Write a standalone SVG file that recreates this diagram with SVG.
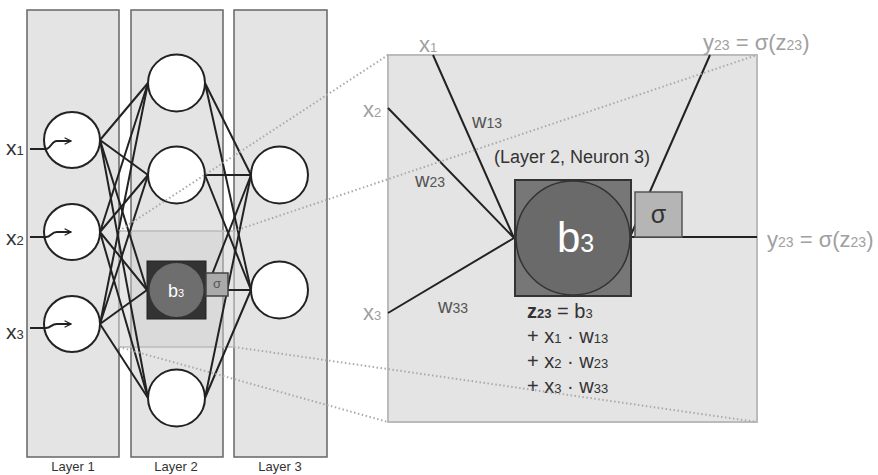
<svg xmlns="http://www.w3.org/2000/svg" width="878" height="475" viewBox="0 0 878 475">
<defs>
<style>
.layer{fill:#e4e4e4;stroke:#666;stroke-width:1.5}
.neuron{fill:#fff;stroke:#222;stroke-width:2}
.edge{stroke:#222;stroke-width:2;fill:none}
.dot{stroke:#aaa;stroke-width:2;stroke-dasharray:1.5 2.5;fill:none}
.t{font-family:"Liberation Sans",Arial,sans-serif}
.lbl{font-size:13px;fill:#333}
.xin{font-size:21px;fill:#333}
.xg{font-size:22px;fill:#a0a0a0}
.w{font-size:20px;fill:#555}
.eq{font-size:20px;fill:#333}
</style>
<marker id="arr" viewBox="0 0 10 10" refX="9" refY="5" markerWidth="8" markerHeight="8" markerUnits="userSpaceOnUse" orient="auto">
<path d="M1,1 L9,5 L1,9" fill="none" stroke="#222" stroke-width="1.6"/>
</marker>
</defs>
<rect width="878" height="475" fill="#fff"/>

<g id="layers">
<rect class="layer" x="27" y="10" width="92" height="447"/>
<rect class="layer" x="131" y="10" width="92" height="447"/>
<rect class="layer" x="234" y="10" width="93" height="447"/>
<text class="t lbl" x="73" y="471" text-anchor="middle">Layer 1</text>
<text class="t lbl" x="176" y="471" text-anchor="middle">Layer 2</text>
<text class="t lbl" x="280" y="471" text-anchor="middle">Layer 3</text>
</g>

<g id="highlight">
<rect x="119" y="231" width="115" height="116" fill="#cfcfcf" fill-opacity="0.5" stroke="#bbb" stroke-width="1.5"/>
</g>

<g id="zoom-panel">
<rect x="388" y="55" width="369" height="367" fill="#e4e4e4" stroke="#bbb" stroke-width="2"/>
</g>

<g id="connectors">
<path class="edge" d="M100,140 L148,83 M100,140 L148,175 M100,140 L147,290 M100,140 L148,398"/>
<path class="edge" d="M100,232 L148,83 M100,232 L148,175 M100,232 L147,290 M100,232 L148,398"/>
<path class="edge" d="M100,324 L148,83 M100,324 L148,175 M100,324 L147,290 M100,324 L148,398"/>
<path class="edge" d="M205,83 L251,175 M205,83 L251,290"/>
<path class="edge" d="M205,175 L251,175 M205,175 L251,290"/>
<path class="edge" d="M206,290 L251,175 M206,290 L251,290"/>
<path class="edge" d="M205,398 L251,175 M205,398 L251,290"/>
<path class="edge" d="M30,149 H45 M30,237 H45 M30,328 H45"/>
<path class="edge" d="M433,55 L514,238 M388,108 L514,238 M388,313 L514,238"/>
<path class="edge" d="M630,237 L710,55 M630,237 H757"/>
</g>

<g id="inputs">
<text class="t xin" x="6" y="155">x<tspan font-size="13">1</tspan></text>
<text class="t xin" x="6" y="245">x<tspan font-size="13">2</tspan></text>
<text class="t xin" x="6" y="339">x<tspan font-size="13">3</tspan></text>
</g>

<g id="l1-n1"><circle class="neuron" cx="72" cy="140" r="28"/><path class="edge" d="M44,149 H46 C51,149 51,141 57,141 H71" marker-end="url(#arr)"/></g>
<g id="l1-n2"><circle class="neuron" cx="72" cy="232" r="28"/><path class="edge" d="M44,237 H46 C51,237 51,232 57,232 H71" marker-end="url(#arr)"/></g>
<g id="l1-n3"><circle class="neuron" cx="72" cy="324" r="28"/><path class="edge" d="M44,328 H46 C51,328 51,324 57,324 H71" marker-end="url(#arr)"/></g>

<g id="l2-n1"><circle class="neuron" cx="176.5" cy="83" r="28.5"/></g>
<g id="l2-n2"><circle class="neuron" cx="176.5" cy="175" r="28.5"/></g>
<g id="l2-n3">
<rect x="147" y="261" width="59" height="58" fill="#333" stroke="#222" stroke-width="1"/>
<circle cx="176.5" cy="290" r="27" fill="#6e6e6e"/>
<text class="t" x="168" y="297" font-size="18" fill="#fff">b<tspan font-size="11">3</tspan></text>
</g>
<g id="l2-sigma">
<rect x="206" y="273" width="22" height="23" fill="#aaa" stroke="#444" stroke-width="1.5"/>
<text class="t" x="217" y="288" font-size="13" fill="#555" text-anchor="middle">σ</text>
</g>
<g id="l2-n4"><circle class="neuron" cx="176.5" cy="398" r="28.5"/></g>

<g id="l3-n1"><circle class="neuron" cx="279.5" cy="175" r="28.5"/></g>
<g id="l3-n2"><circle class="neuron" cx="279.5" cy="290" r="28.5"/></g>

<g id="zoom-neuron">
<rect x="515" y="180" width="116" height="116" fill="#777" stroke="#333" stroke-width="2"/>
<circle cx="573" cy="238" r="57" fill="#6a6a6a" stroke="#333" stroke-width="1.5"/>
<text class="t" x="557" y="252" font-size="42" fill="#fff">b<tspan font-size="25">3</tspan></text>
<text class="t" x="494" y="163" font-size="18" fill="#333">(Layer 2, Neuron 3)</text>
</g>
<g id="zoom-sigma">
<rect x="635" y="192" width="47" height="45" fill="#b5b5b5" stroke="#555" stroke-width="1.5"/>
<text class="t" x="658.5" y="223" font-size="25" fill="#333" text-anchor="middle">σ</text>
</g>

<g id="zoom-labels">
<text class="t xg" x="419" y="52">x<tspan font-size="13">1</tspan></text>
<text class="t xg" x="363" y="117">x<tspan font-size="13">2</tspan></text>
<text class="t xg" x="363" y="320">x<tspan font-size="13">3</tspan></text>
<text class="t xg" x="703" y="50" font-size="23">y<tspan font-size="14">23</tspan> = σ(z<tspan font-size="14">23</tspan>)</text>
<text class="t xg" x="767" y="247" font-size="23">y<tspan font-size="14">23</tspan> = σ(z<tspan font-size="14">23</tspan>)</text>
<text class="t w" x="472" y="128">w<tspan font-size="14">13</tspan></text>
<text class="t w" x="415" y="187">w<tspan font-size="14">23</tspan></text>
<text class="t w" x="438" y="313">w<tspan font-size="14">33</tspan></text>
</g>

<g id="equation">
<text class="t eq" x="527" y="318"><tspan font-weight="bold">z</tspan><tspan font-weight="bold" font-size="13">23</tspan> = b<tspan font-size="13">3</tspan></text>
<text class="t eq" x="527" y="343">+ x<tspan font-size="13">1</tspan> · w<tspan font-size="13">13</tspan></text>
<text class="t eq" x="527" y="368">+ x<tspan font-size="13">2</tspan> · w<tspan font-size="13">23</tspan></text>
<text class="t eq" x="527" y="393">+ x<tspan font-size="13">3</tspan> · w<tspan font-size="13">33</tspan></text>
</g>

<g id="zoom-guides">
<path class="dot" d="M119,231 L388,55 M234,231 L757,55 M119,347 L388,422 M234,347 L757,422"/>
</g>
</svg>
